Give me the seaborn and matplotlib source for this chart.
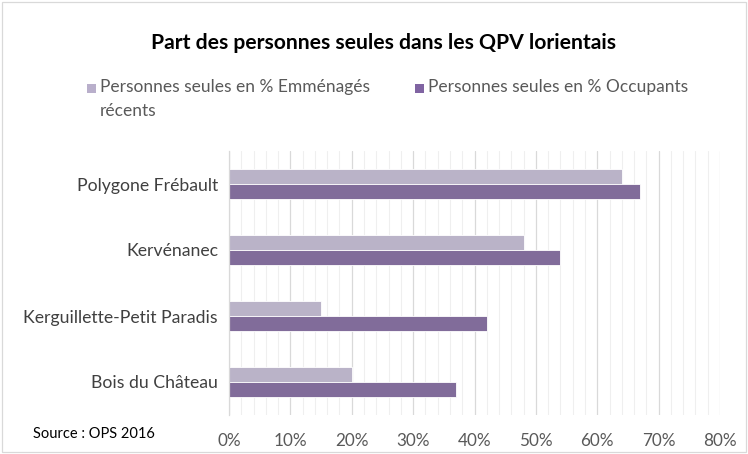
import pandas as pd
import matplotlib.pyplot as plt
import seaborn as sns
from matplotlib.patches import Rectangle
from matplotlib.ticker import MultipleLocator, PercentFormatter

# --- Data ---
quartiers = ["Polygone Frébault", "Kervénanec", "Kerguillette-Petit Paradis", "Bois du Château"]
emmenages = [64, 48, 15, 20]
occupants = [67, 54, 42, 37]
series = ["Personnes seules en % Emménagés\nrécents", "Personnes seules en % Occupants"]
colors = ["#B9AFCB", "#8064A2"]

df = pd.DataFrame({
    "quartier": quartiers * 2,
    "serie": [series[0]] * 4 + [series[1]] * 4,
    "part": emmenages + occupants,
})

sns.set_style("white")
plt.rcParams["font.family"] = ["Lato", "DejaVu Sans"]

fig = plt.figure(figsize=(7.48, 4.54), dpi=100)
ax = fig.add_axes([229 / 748, 1 - 415 / 454, 491 / 748, 264 / 454])

sns.barplot(data=df, y="quartier", x="part", hue="serie", hue_order=series,
            palette=colors, orient="h", width=0.44, ax=ax,
            edgecolor="white", linewidth=0.6, legend=False)

ax.set_xlim(0, 80)
ax.set_ylim(3.5, -0.5)
ax.xaxis.set_major_locator(MultipleLocator(10))
ax.xaxis.set_minor_locator(MultipleLocator(2))
ax.xaxis.set_major_formatter(PercentFormatter(decimals=0))
ax.grid(which="major", axis="x", color="#D9D9D9", linewidth=0.9)
ax.grid(which="minor", axis="x", color="#EFEFEF", linewidth=0.8)
ax.set_axisbelow(True)

for s in ["top", "right", "bottom"]:
    ax.spines[s].set_visible(False)
ax.spines["left"].set_color("#D9D9D9")
ax.spines["left"].set_linewidth(0.9)

ax.tick_params(axis="x", which="both", length=0, labelsize=12.3, labelcolor="#595959", pad=13)
ax.tick_params(axis="y", which="major", length=0, labelsize=12.7, labelcolor="#404040", pad=8)
ax.set_yticks([-0.5, 0.5, 1.5, 2.5, 3.5], minor=True)
ax.tick_params(axis="y", which="minor", length=4, color="#D9D9D9", width=0.9, direction="out")
ax.set_xlabel("")
ax.set_ylabel("")

fig.text(383 / 748, 1 - 43 / 454, "Part des personnes seules dans les QPV lorientais",
         ha="center", va="center", fontsize=15.2, fontweight="bold", color="black")

# legend drawn by hand so both entries sit on the first line, like Excel
legend_x = [87, 415]
for x, c, lab in zip(legend_x, colors, series):
    fig.patches.append(Rectangle((x / 748, 1 - 93 / 454), 9 / 748, 9 / 454,
                                 transform=fig.transFigure, facecolor=c, edgecolor="none"))
    fig.text((x + 13) / 748, 1 - 79 / 454, lab, ha="left", va="top", fontsize=12.5,
             color="#595959", linespacing=1.6)

fig.text(33 / 748, 1 - 434 / 454, "Source : OPS 2016", ha="left", va="center",
         fontsize=10.5, color="black")

fig.patches.append(Rectangle((2 / 748, 2 / 454), 744 / 748, 450 / 454, transform=fig.transFigure,
                             fill=False, edgecolor="#D9D9D9", linewidth=0.9))

plt.savefig("out.png", dpi=100)
